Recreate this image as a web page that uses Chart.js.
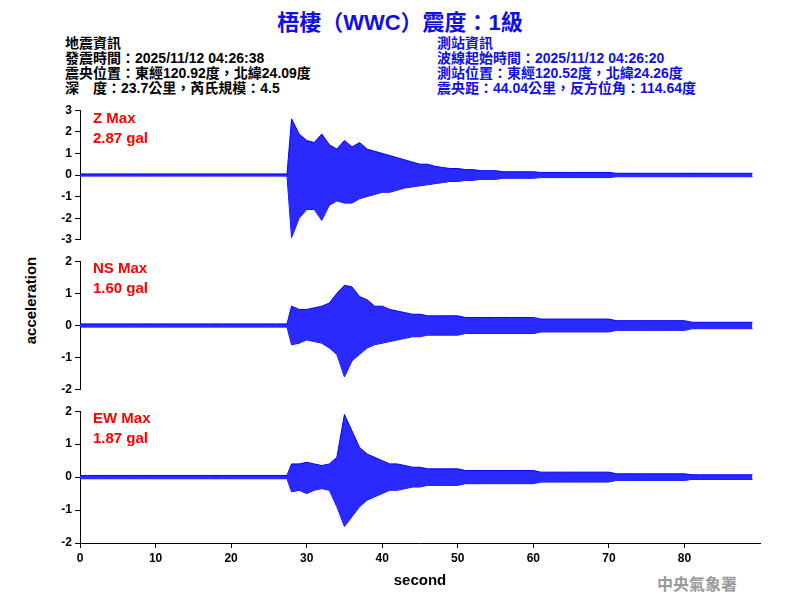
<!DOCTYPE html>
<html><head><meta charset="utf-8">
<script src="https://cdn.jsdelivr.net/npm/chart.js@4"></script>
<style>
body{margin:0;width:800px;height:600px;background:#fff;position:relative;overflow:hidden;font-family:"Liberation Sans",Arial,sans-serif}
.t{position:absolute;white-space:nowrap}
.h{font-family:"Liberation Sans","Noto Sans CJK TC",sans-serif;font-size:14px;line-height:15px;font-weight:bold}
.w{position:absolute;left:0;width:800px}
</style></head><body>
<div class="t" style="left:0;width:800px;top:4px;text-align:center;color:#1010e0;font-size:22px;font-weight:bold;font-family:'Liberation Sans','Noto Sans CJK TC'">梧棲（WWC）震度：1級</div>
<div class="t h" style="left:65px;top:36px;color:#000">地震資訊<br>發震時間：2025/11/12 04:26:38<br>震央位置：東經120.92度，北緯24.09度<br>深　度：23.7公里，芮氏規模：4.5</div>
<div class="t h" style="left:437px;top:36px;color:#1010e0">測站資訊<br>波線起始時間：2025/11/12 04:26:20<br>測站位置：東經120.52度，北緯24.26度<br>震央距：44.04公里，反方位角：114.64度</div>
<div class="t" style="left:-20px;top:292px;width:100px;text-align:center;transform:rotate(-90deg);font-size:15px;font-weight:bold">acceleration</div>
<div class="t" style="left:657px;top:571px;color:#999;font-size:16px;font-weight:bold;font-family:'Noto Sans CJK TC'">中央氣象署</div>
<div class="w" style="top:100px;height:150px"><canvas id="c1"></canvas></div>
<div class="w" style="top:251px;height:149px"><canvas id="c2"></canvas></div>
<div class="w" style="top:401px;height:199px"><canvas id="c3"></canvas></div>
<div class="t" style="left:93px;top:108px;color:#f00;font-size:15px;font-weight:bold;line-height:20px">Z Max<br>2.87 gal</div>
<div class="t" style="left:93px;top:258px;color:#f00;font-size:15px;font-weight:bold;line-height:20px">NS Max<br>1.60 gal</div>
<div class="t" style="left:93px;top:408px;color:#f00;font-size:15px;font-weight:bold;line-height:20px">EW Max<br>1.87 gal</div>
<script>
const seconds=[0,1,2,3,4,5,6,7,8,9,10,11,12,13,14,15,16,17,18,19,20,21,22,23,24,25,26,27.4,28,29,30,31,32,33,34,35,36,37,38,39,40,41,42,43,44,45,46,47,48,49,50,51,52,53,54,55,56,57,58,59,60,61,62,63,64,65,66,67,68,69,70,71,72,73,74,75,76,77,78,79,80,81,82,83,84,85,86,87,88,89];
const q=[0.05,0.05,0.05,0.05,0.05,0.05,0.05,0.05,0.05,0.05,0.05,0.05,0.05,0.05,0.05,0.05,0.05,0.05,0.05,0.05,0.05,0.05,0.05,0.05,0.05,0.05,0.05];
const zUpper=q.concat([0.05,2.6,1.9,1.6,1.5,1.9,1.4,1.2,1.6,1.3,1.5,1.2,1.1,1.0,0.9,0.8,0.7,0.6,0.5,0.5,0.4,0.35,0.3,0.3,0.25,0.25,0.2,0.2,0.2,0.15,0.15,0.15,0.15,0.15,0.12,0.12,0.12,0.12,0.12,0.12,0.12,0.12,0.12,0.12,0.08,0.08,0.08,0.08,0.08,0.08,0.08,0.08,0.08,0.08,0.08,0.08,0.08,0.08,0.08,0.08,0.08,0.08,0.08]);
const zLower=q.map(v=>-v).concat([-0.05,-2.9,-2.0,-1.6,-1.6,-2.1,-1.4,-1.2,-1.3,-1.3,-1.1,-1.0,-0.9,-0.8,-0.8,-0.7,-0.6,-0.55,-0.5,-0.45,-0.4,-0.35,-0.3,-0.3,-0.25,-0.25,-0.2,-0.2,-0.2,-0.15,-0.15,-0.15,-0.15,-0.15,-0.12,-0.12,-0.12,-0.12,-0.12,-0.12,-0.12,-0.12,-0.12,-0.12,-0.08,-0.08,-0.08,-0.08,-0.08,-0.08,-0.08,-0.08,-0.08,-0.08,-0.08,-0.08,-0.08,-0.08,-0.08,-0.08,-0.08,-0.08,-0.08]);
const nsUpper=q.concat([0.05,0.6,0.5,0.5,0.55,0.6,0.7,1.0,1.25,1.2,0.9,0.8,0.6,0.6,0.5,0.45,0.4,0.35,0.35,0.3,0.3,0.3,0.3,0.3,0.25,0.25,0.25,0.25,0.25,0.25,0.25,0.25,0.25,0.25,0.2,0.2,0.2,0.2,0.2,0.2,0.2,0.2,0.2,0.2,0.15,0.15,0.15,0.15,0.15,0.15,0.15,0.15,0.15,0.15,0.1,0.1,0.1,0.1,0.1,0.1,0.1,0.1,0.1]);
const nsLower=q.map(v=>-v).concat([-0.05,-0.6,-0.55,-0.45,-0.5,-0.55,-0.7,-0.9,-1.6,-1.1,-0.9,-0.7,-0.6,-0.55,-0.5,-0.45,-0.4,-0.35,-0.35,-0.3,-0.3,-0.3,-0.3,-0.3,-0.25,-0.25,-0.25,-0.25,-0.25,-0.25,-0.25,-0.25,-0.25,-0.25,-0.2,-0.2,-0.2,-0.2,-0.2,-0.2,-0.2,-0.2,-0.2,-0.2,-0.15,-0.15,-0.15,-0.15,-0.15,-0.15,-0.15,-0.15,-0.15,-0.15,-0.1,-0.1,-0.1,-0.1,-0.1,-0.1,-0.1,-0.1,-0.1]);
const ewUpper=q.concat([0.05,0.4,0.4,0.45,0.4,0.35,0.4,0.6,1.9,1.4,0.9,0.7,0.6,0.5,0.4,0.4,0.35,0.3,0.3,0.25,0.25,0.25,0.25,0.25,0.2,0.2,0.2,0.2,0.2,0.2,0.2,0.2,0.2,0.2,0.15,0.15,0.15,0.15,0.15,0.15,0.15,0.15,0.15,0.15,0.1,0.1,0.1,0.1,0.1,0.1,0.1,0.1,0.1,0.1,0.07,0.07,0.07,0.07,0.07,0.07,0.07,0.07,0.07]);
const ewLower=q.map(v=>-v).concat([-0.05,-0.45,-0.4,-0.5,-0.4,-0.35,-0.4,-0.9,-1.5,-1.2,-0.9,-0.7,-0.6,-0.5,-0.4,-0.4,-0.35,-0.3,-0.3,-0.25,-0.25,-0.25,-0.25,-0.25,-0.2,-0.2,-0.2,-0.2,-0.2,-0.2,-0.2,-0.2,-0.2,-0.2,-0.15,-0.15,-0.15,-0.15,-0.15,-0.15,-0.15,-0.15,-0.15,-0.15,-0.1,-0.1,-0.1,-0.1,-0.1,-0.1,-0.1,-0.1,-0.1,-0.1,-0.07,-0.07,-0.07,-0.07,-0.07,-0.07,-0.07,-0.07,-0.07]);
const zTicks=[-3,-2,-1,0,1,2,3], hTicks=[-2,-1,0,1,2], xTicks=[0,10,20,30,40,50,60,70,80];
const font={family:"'Liberation Sans',Arial",size:12,weight:'bold'};
function mk(id,up,lo,ticks,showX){
  const el=document.getElementById(id);
  const pts=a=>seconds.map((s,i)=>({x:s,y:a[i]}));
  new Chart(el,{type:'line',data:{datasets:[
    {data:pts(up),borderColor:'#0000ff',borderWidth:1,pointRadius:0,fill:'+1',backgroundColor:'#2a2aff',tension:0},
    {data:pts(lo),borderColor:'#0000ff',borderWidth:1,pointRadius:0,fill:false,tension:0}]},
  options:{responsive:true,maintainAspectRatio:false,animation:false,layout:{padding:{top:7,bottom:showX?10:7,right:40,left:0}},
   plugins:{legend:{display:false},tooltip:{enabled:false}},
   scales:{x:{type:'linear',min:0,max:90,display:showX,afterFit:a=>{a.height=showX?47:0},
      afterBuildTicks:a=>{a.ticks=xTicks.map(v=>({value:v}))},
      grid:{drawOnChartArea:false,color:'#000',tickLength:5},border:{color:'#000'},
      ticks:{color:'#000',font,autoSkip:false,maxRotation:0},title:{display:true,text:'second',color:'#000',font:{family:"'Liberation Sans',Arial",size:15,weight:'bold'},padding:0}},
    y:{min:ticks[0],max:ticks[ticks.length-1],afterFit:a=>{a.width=80},
      afterBuildTicks:a=>{a.ticks=ticks.map(v=>({value:v}))},
      grid:{drawOnChartArea:false,color:'#000',tickLength:5},border:{color:'#000'},ticks:{color:'#000',font,padding:3,autoSkip:false}}}}});
}
mk('c1',zUpper,zLower,zTicks,false);
mk('c2',nsUpper,nsLower,hTicks,false);
mk('c3',ewUpper,ewLower,hTicks,true);
</script></body></html>
